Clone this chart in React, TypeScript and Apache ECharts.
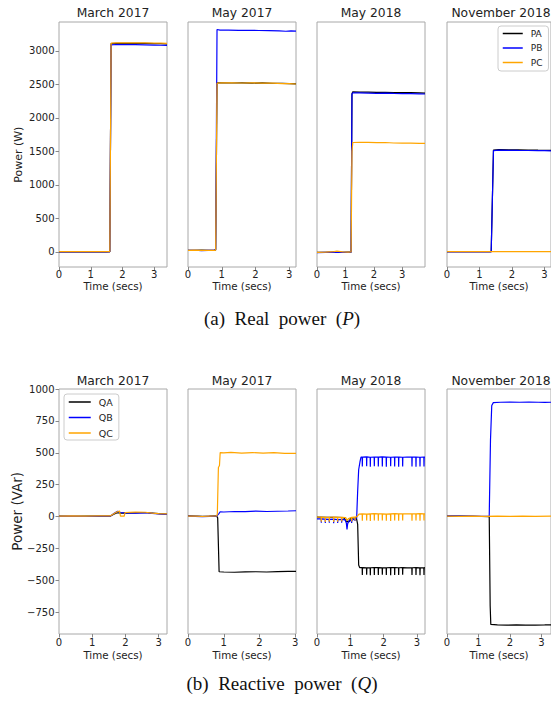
import { useEffect, useRef } from 'react';
import * as echarts from 'echarts';

type Pt = [number, number];
// one narrow downward spike: baseline, low value at t, baseline
const dip = (t: number, base: number, low: number): Pt[] => [[t - 0.005, base], [t, low], [t + 0.005, base]];

const MONTHS = ['March 2017', 'May 2017', 'May 2018', 'November 2018'];
const P_NAMES = ['PA', 'PB', 'PC'];
const Q_NAMES = ['QA', 'QB', 'QC'];
const COLORS = ['#000000', '#0000ff', '#ffa500'];
const P_TICKS = [0, 500, 1000, 1500, 2000, 2500, 3000];
const Q_TICKS = [-750, -500, -250, 0, 250, 500, 750, 1000];
const T_TICKS = [0, 1, 2, 3];
const P_XMAX = [3.4, 3.2, 3.8, 3.2];
const Q_XMAX = [3.25, 3.02, 3.24, 3.3];

// ---- Real power (W) ----
const MAR17_PA: Pt[] = [[0, 2], [0.3, 3], [0.6, 1], [0.9, 2], [1.2, 3], [1.5, 2], [1.6, 3], [1.64, 3108], [1.8, 3112], [2.1, 3110], [2.4, 3113], [2.7, 3111], [3.0, 3108], [3.2, 3106], [3.4, 3104]];
const MAR17_PB: Pt[] = [[0, 1], [0.4, 2], [0.8, 1], [1.2, 2], [1.6, 2], [1.64, 3090], [1.8, 3094], [2.1, 3092], [2.4, 3093], [2.7, 3090], [3.0, 3086], [3.2, 3083], [3.4, 3080]];
const MAR17_PC: Pt[] = [[0, 3], [0.4, 4], [0.8, 3], [1.2, 4], [1.6, 4], [1.64, 3114], [1.8, 3118], [2.1, 3119], [2.4, 3120], [2.7, 3118], [3.0, 3116], [3.2, 3114], [3.4, 3112]];

const MAY17_PA: Pt[] = [[0, 25], [0.2, 24], [0.4, 26], [0.6, 24], [0.78, 25], [0.82, 30], [0.86, 2522], [1.0, 2524], [1.3, 2520], [1.6, 2523], [1.9, 2519], [2.2, 2521], [2.5, 2516], [2.8, 2514], [3.0, 2512], [3.2, 2508]];
const MAY17_PB: Pt[] = [[0, 22], [0.2, 25], [0.4, 20], [0.6, 23], [0.78, 24], [0.82, 40], [0.86, 3318], [0.95, 3310], [1.2, 3308], [1.5, 3305], [1.8, 3306], [2.1, 3303], [2.4, 3302], [2.7, 3298], [2.9, 3292], [3.05, 3297], [3.2, 3295]];
const MAY17_PC: Pt[] = [[0, 24], [0.2, 26], [0.4, 23], [0.6, 25], [0.78, 24], [0.82, 28], [0.86, 2518], [1.0, 2521], [1.3, 2523], [1.6, 2520], [1.9, 2522], [2.2, 2518], [2.5, 2517], [2.8, 2512], [3.0, 2510], [3.2, 2505]];

const MAY18_PA: Pt[] = [[0, -8], [0.3, -5], [0.6, -2], [0.9, -6], [1.1, -4], [1.2, -3], [1.23, 2360], [1.26, 2388], [1.5, 2385], [1.8, 2384], [2.1, 2380], [2.4, 2381], [2.7, 2378], [3.0, 2376], [3.3, 2375], [3.6, 2372], [3.8, 2370]];
const MAY18_PB: Pt[] = [[0, -10], [0.3, -6], [0.6, -4], [0.9, -8], [1.1, -5], [1.2, -4], [1.23, 2350], [1.26, 2374], [1.5, 2372], [1.8, 2370], [2.1, 2366], [2.4, 2368], [2.7, 2364], [3.0, 2362], [3.3, 2360], [3.6, 2358], [3.8, 2356]];
const MAY18_PC: Pt[] = [[0, -6], [0.3, -3], [0.6, 5], [0.7, 12], [0.9, 0], [1.1, -2], [1.2, 0], [1.23, 1500], [1.26, 1632], [1.5, 1636], [1.8, 1634], [2.1, 1630], [2.4, 1632], [2.7, 1625], [3.0, 1624], [3.3, 1622], [3.6, 1620], [3.8, 1618]];

const NOV18_PA: Pt[] = [[0, 3], [0.4, 4], [0.8, 3], [1.2, 4], [1.36, 3], [1.43, 1520], [1.6, 1526], [1.9, 1524], [2.2, 1522], [2.5, 1520], [2.8, 1518], [3.0, 1517], [3.2, 1515]];
const NOV18_PB: Pt[] = [[0, 2], [0.4, 3], [0.8, 2], [1.2, 3], [1.36, 2], [1.43, 1512], [1.6, 1518], [1.9, 1516], [2.2, 1514], [2.5, 1513], [2.8, 1511], [3.0, 1510], [3.2, 1508]];
const NOV18_PC: Pt[] = [[0, 4], [0.4, 5], [0.8, 4], [1.2, 5], [1.6, 4], [2.0, 5], [2.4, 4], [2.8, 3], [3.2, 4]];

// ---- Reactive power (VAr) ----
const MAR17_QA: Pt[] = [[0, 3], [0.4, 2], [0.8, 4], [1.2, 3], [1.55, 4], [1.65, 18], [1.75, 30], [1.85, 28], [2.0, 27], [2.3, 30], [2.6, 32], [2.8, 28], [3.0, 24], [3.25, 20]];
const MAR17_QB: Pt[] = [[0, 2], [0.4, 3], [0.8, 1], [1.2, 3], [1.55, 4], [1.65, 25], [1.76, 42], [1.85, 32], [2.0, 30], [2.3, 28], [2.6, 30], [2.8, 26], [3.0, 22], [3.25, 18]];
const MAR17_QC: Pt[] = [[0, 4], [0.4, 5], [0.8, 3], [1.2, 5], [1.55, 6], [1.65, 22], [1.75, 38], [1.82, 44], [1.85, 4], [1.96, 3], [1.99, 32], [2.3, 35], [2.6, 34], [2.8, 28], [3.0, 24], [3.25, 22]];

const MAY17_QA: Pt[] = [[0, 5], [0.2, 4], [0.4, 2], [0.6, 3], [0.8, 5], [0.83, -10], [0.87, -432], [1.0, -434], [1.3, -436], [1.6, -433], [1.9, -432], [2.2, -434], [2.5, -431], [2.8, -430], [3.02, -430]];
const MAY17_QB: Pt[] = [[0, 3], [0.2, 2], [0.4, 0], [0.6, 2], [0.8, 4], [0.86, 22], [0.9, 38], [1.0, 36], [1.3, 40], [1.6, 39], [1.9, 43], [2.2, 40], [2.5, 42], [2.8, 44], [3.02, 46]];
const MAY17_QC: Pt[] = [[0, 4], [0.2, 3], [0.4, 1], [0.6, 3], [0.8, 5], [0.82, 20], [0.85, 385], [0.88, 400], [0.9, 502], [1.0, 500], [1.2, 504], [1.5, 498], [1.8, 502], [2.1, 497], [2.4, 501], [2.7, 496], [3.02, 495]];

const MAY18_QA: Pt[] = [
  [0, -4], [0.3, -6], [0.6, -5], [0.8, -8], [0.86, -30], [0.9, -42], [0.93, -35], [0.97, -40], [1.0, -15], [1.1, -10], [1.18, -8], [1.22, -60], [1.25, -380], [1.28, -400],
  ...dip(1.36, -400, -458), ...dip(1.49, -402, -456), ...dip(1.60, -401, -459), ...dip(1.72, -399, -457), ...dip(1.84, -400, -458),
  ...dip(1.96, -402, -456), ...dip(2.08, -401, -458), ...dip(2.21, -400, -459), ...dip(2.33, -399, -457), ...dip(2.45, -401, -458),
  ...dip(2.57, -400, -456), [2.7, -402], ...dip(2.85, -401, -458), ...dip(2.97, -400, -457), ...dip(3.09, -402, -459), ...dip(3.21, -401, -458), [3.24, -400],
];
const MAY18_QB: Pt[] = [
  [0, -18], ...dip(0.13, -18, -48), ...dip(0.25, -20, -50), ...dip(0.37, -22, -48), ...dip(0.5, -20, -52), ...dip(0.62, -24, -50), ...dip(0.74, -22, -48),
  [0.84, -25], [0.88, -50], [0.9, -100], [0.92, -55], [0.96, -35], ...dip(1.04, -28, -50), ...dip(1.14, -18, -35), [1.19, -10], [1.22, 200], [1.25, 367], [1.29, 430], [1.32, 466],
  ...dip(1.36, 466, 392), ...dip(1.49, 468, 395), ...dip(1.60, 465, 390), ...dip(1.72, 467, 394), ...dip(1.84, 466, 392),
  ...dip(1.96, 468, 393), ...dip(2.08, 466, 390), ...dip(2.21, 465, 394), ...dip(2.33, 467, 392), ...dip(2.45, 466, 391),
  ...dip(2.57, 465, 393), [2.7, 466], ...dip(2.85, 467, 392), ...dip(2.97, 466, 390), ...dip(3.09, 465, 393), ...dip(3.21, 466, 392), [3.24, 466],
];
const MAY18_QC: Pt[] = [
  [0, -4], ...dip(0.13, -4, -40), ...dip(0.25, -6, -42), ...dip(0.37, -5, -40), ...dip(0.5, -4, -42), ...dip(0.62, -6, -40), ...dip(0.74, -5, -38),
  [0.86, -8], [0.9, -30], [0.95, -15], ...dip(1.04, -6, -38), ...dip(1.14, -4, -30), [1.2, 0], [1.26, 20],
  ...dip(1.36, 22, -32), ...dip(1.49, 20, -30), ...dip(1.60, 21, -34), ...dip(1.72, 23, -31), ...dip(1.84, 21, -33),
  ...dip(1.96, 22, -30), ...dip(2.08, 20, -32), ...dip(2.21, 21, -34), ...dip(2.33, 23, -31), ...dip(2.45, 22, -33),
  ...dip(2.57, 21, -30), [2.7, 22], ...dip(2.85, 22, -32), ...dip(2.97, 21, -31), ...dip(3.09, 23, -33), ...dip(3.21, 22, -30), [3.24, 22],
];

const NOV18_QA: Pt[] = [[0, 4], [0.4, 3], [0.8, 2], [1.1, 1], [1.34, 0], [1.37, -700], [1.39, -845], [1.6, -848], [1.9, -850], [2.2, -849], [2.5, -851], [2.8, -850], [3.1, -849], [3.3, -848]];
const NOV18_QB: Pt[] = [[0, 5], [0.4, 4], [0.8, 3], [1.1, 2], [1.34, 4], [1.38, 600], [1.42, 870], [1.47, 893], [1.7, 896], [2.0, 897], [2.3, 896], [2.6, 897], [2.9, 896], [3.1, 895], [3.3, 896]];
const NOV18_QC: Pt[] = [[0, 3], [0.4, 2], [0.8, 3], [1.2, 2], [1.6, 3], [2.0, 2], [2.4, 3], [2.8, 2], [3.3, 3]];

const P_DATA: Pt[][][] = [
  [MAR17_PA, MAR17_PB, MAR17_PC],
  [MAY17_PA, MAY17_PB, MAY17_PC],
  [MAY18_PA, MAY18_PB, MAY18_PC],
  [NOV18_PA, NOV18_PB, NOV18_PC],
];
const Q_DATA: Pt[][][] = [
  [MAR17_QA, MAR17_QB, MAR17_QC],
  [MAY17_QA, MAY17_QB, MAY17_QC],
  [MAY18_QA, MAY18_QB, MAY18_QC],
  [NOV18_QA, NOV18_QB, NOV18_QC],
];

const FONT = 'DejaVu Sans';
const TXT = '#222';
const FRAME = '#a8a8a8';
const COL_LEFT = [59, 188, 317, 447];
const PANEL_W = 108;
const ROW_TOP = [22, 389];
const PANEL_H = 245;

const fmt = (v: number) => (v < 0 ? '\u2212' + Math.abs(v) : String(v));

export default function App() {
  const ref = useRef<HTMLDivElement>(null);
  useEffect(() => {
    if (!ref.current) return;
    const chart = echarts.init(ref.current, undefined, { renderer: 'svg' });
    const grids: any[] = [];
    const xAxes: any[] = [];
    const yAxes: any[] = [];
    const series: any[] = [];
    const graphics: any[] = [];

    for (let row = 0; row < 2; row++) {
      for (let col = 0; col < 4; col++) {
        const g = row * 4 + col;
        grids.push({
          left: COL_LEFT[col], top: ROW_TOP[row], width: PANEL_W, height: PANEL_H,
          show: true, borderColor: FRAME, borderWidth: 1, backgroundColor: 'transparent', containLabel: false,
        });
        xAxes.push({
          type: 'value', gridIndex: g, min: 0, max: row === 0 ? P_XMAX[col] : Q_XMAX[col],
          axisLine: { show: false, onZero: false },
          axisTick: { show: true, length: 3.5, lineStyle: { color: '#888' }, customValues: T_TICKS },
          axisLabel: { customValues: T_TICKS, margin: row === 0 ? 2 : 3, fontSize: 10, color: TXT, fontFamily: FONT },
          splitLine: { show: false },
          name: 'Time (secs)', nameLocation: 'middle', nameGap: row === 0 ? 13.5 : 15.5,
          nameTextStyle: { fontSize: 10.3, color: TXT, fontFamily: FONT },
        });
        const ticks = row === 0 ? P_TICKS : Q_TICKS;
        yAxes.push({
          type: 'value', gridIndex: g,
          min: row === 0 ? -225 : -920, max: row === 0 ? 3430 : 1000,
          axisLine: { show: false, onZero: false },
          axisTick: { show: col === 0, length: 3.5, lineStyle: { color: '#888' }, customValues: ticks },
          axisLabel: { show: col === 0, customValues: ticks, margin: 4.5, fontSize: 10, color: TXT, fontFamily: FONT, formatter: fmt },
          splitLine: { show: false },
        });
        const data = row === 0 ? P_DATA[col] : Q_DATA[col];
        const names = row === 0 ? P_NAMES : Q_NAMES;
        data.forEach((d, k) => {
          series.push({
            type: 'line', name: names[k], xAxisIndex: g, yAxisIndex: g, data: d,
            symbol: 'none', showSymbol: false, clip: true,
            lineStyle: { width: 1.2, color: COLORS[k] }, itemStyle: { color: COLORS[k] },
            emphasis: { disabled: true }, z: 2 + k,
          });
        });
        graphics.push({
          type: 'text', x: COL_LEFT[col] + PANEL_W / 2, y: row === 0 ? 13 : 381,
          style: { text: MONTHS[col], fill: TXT, font: `12.3px "${FONT}"`, align: 'center', verticalAlign: 'middle' },
        });
      }
    }

    graphics.push({
      type: 'text', x: 18, y: 154.7, rotation: Math.PI / 2,
      style: { text: 'Power (W)', fill: TXT, font: `11px "${FONT}"`, align: 'center', verticalAlign: 'middle' },
    });
    graphics.push({
      type: 'text', x: 16.5, y: 511.3, rotation: Math.PI / 2,
      style: { text: 'Power (VAr)', fill: TXT, font: `13.5px "${FONT}"`, align: 'center', verticalAlign: 'middle' },
    });
    const capRich = {
      n: { fontFamily: 'Liberation Serif', fontSize: 19, fill: '#111' },
      i: { fontFamily: 'Liberation Serif', fontSize: 19, fontStyle: 'italic', fill: '#111' },
    };
    graphics.push({
      type: 'text', x: 282, y: 318,
      style: { text: '{n|(a)  Real  power  (}{i|P}{n|)}', align: 'center', verticalAlign: 'middle', rich: capRich },
    });
    graphics.push({
      type: 'text', x: 282, y: 683,
      style: { text: '{n|(b)  Reactive  power  (}{i|Q}{n|)}', align: 'center', verticalAlign: 'middle', rich: capRich },
    });

    const legendCommon = {
      orient: 'vertical', itemHeight: 10, itemGap: 5.5,
      borderColor: '#cccccc', borderWidth: 1, borderRadius: 3, backgroundColor: '#ffffff',
      selectedMode: false,
      lineStyle: { width: 1.5 },
      itemStyle: { opacity: 0, borderWidth: 0 },
    };
    chart.setOption({
      animation: false,
      backgroundColor: '#ffffff',
      textStyle: { fontFamily: FONT },
      grid: grids,
      xAxis: xAxes,
      yAxis: yAxes,
      series,
      legend: [
        {
          ...legendCommon, data: P_NAMES, left: 498, top: 26, padding: [3, 6, 4, 4], itemWidth: 20,
          textStyle: { fontSize: 9, color: TXT, fontFamily: FONT, padding: [0, 0, 0, 3] },
        },
        {
          ...legendCommon, data: Q_NAMES, left: 64, top: 394, padding: [3, 6, 2, 4], itemWidth: 22,
          textStyle: { fontSize: 9.5, color: TXT, fontFamily: FONT, padding: [0, 0, 0, 3] },
        },
      ],
      graphic: graphics,
    });
    return () => chart.dispose();
  }, []);
  return <div ref={ref} style={{ position: 'absolute', left: 0, top: 0, width: 551, height: 706, background: '#fff' }} />;
}
